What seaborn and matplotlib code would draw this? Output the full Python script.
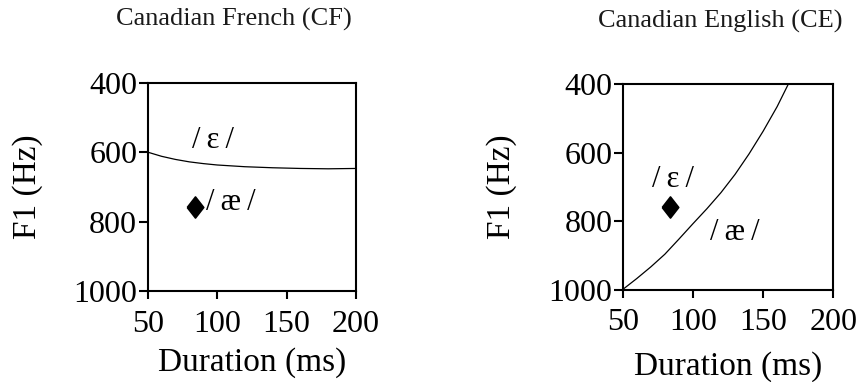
import matplotlib
matplotlib.use('Agg')
import matplotlib.pyplot as plt
import seaborn as sns

sns.set_style('ticks')
plt.rcParams['font.family'] = ['Liberation Serif', 'DejaVu Serif']
plt.rcParams['text.color'] = 'black'
plt.rcParams['axes.labelcolor'] = 'black'
plt.rcParams['xtick.color'] = 'black'
plt.rcParams['ytick.color'] = 'black'

# Canadian French boundary between /ɛ/ and /æ/
cf_dur = [50, 60, 70, 80, 90, 100, 120, 140, 160, 180, 200]
cf_f1 = [600, 612, 621, 628, 633, 637, 642, 645, 647, 648, 647]

# Canadian English boundary
ce_dur = [50, 60, 70, 80, 90, 100, 110, 120, 130, 140, 150, 160, 168]
ce_f1 = [1000, 968, 934, 897, 853, 808, 764, 717, 664, 604, 538, 466, 400]

# stimulus token
tok_dur = [84]
tok_f1 = [758]

titles = ['Canadian French (CF)', 'Canadian English (CE)']
x_ticks = [50, 100, 150, 200]
y_ticks = [400, 600, 800, 1000]

fig = plt.figure(figsize=(8.62, 3.82), dpi=100)
ax1 = fig.add_axes([0.1713, 0.2382, 0.2417, 0.5453])
ax2 = fig.add_axes([0.7224, 0.2421, 0.2443, 0.5380])

diamond = [(-0.78, 0), (0, 1), (0.78, 0), (0, -1), (-0.78, 0)]


def style_axes(ax, xlab_y):
    ax.set_xlim(50, 200)
    ax.set_ylim(1000, 400)
    ax.set_xticks(x_ticks)
    ax.set_yticks(y_ticks)
    for s in ax.spines.values():
        s.set_linewidth(1.5)
        s.set_color('black')
    ax.tick_params(axis='x', length=5.5, width=1.5, pad=8, labelsize=23)
    ax.tick_params(axis='y', length=6.5, width=1.5, pad=1, labelsize=23)
    ax.set_xlabel('Duration (ms)', fontsize=24)
    ax.set_ylabel('F1 (Hz)', fontsize=24)
    ax.xaxis.set_label_coords(0.5, xlab_y)
    ax.yaxis.set_label_coords(-0.50, 0.5)


# left panel
sns.lineplot(x=cf_dur, y=cf_f1, ax=ax1, color='black', linewidth=0.9)
sns.scatterplot(x=tok_dur, y=tok_f1, ax=ax1, marker=diamond, s=230,
                color='black', edgecolor='black', zorder=5)
ax1.text(97, 566, '/\u2009ε\u2009/', fontsize=22, ha='center', va='center')
ax1.text(110, 746, '/\u2009æ\u2009/', fontsize=22, ha='center', va='center')
style_axes(ax1, -0.27)

# right panel
sns.lineplot(x=ce_dur, y=ce_f1, ax=ax2, color='black', linewidth=0.9)
sns.scatterplot(x=tok_dur, y=tok_f1, ax=ax2, marker=diamond, s=230,
                color='black', edgecolor='black', zorder=5)
ax2.text(86, 678, '/\u2009ε\u2009/', fontsize=22, ha='center', va='center')
ax2.text(130, 834, '/\u2009æ\u2009/', fontsize=22, ha='center', va='center')
style_axes(ax2, -0.30)

fig.text(0.271, 0.948, titles[0], fontsize=19, ha='center', va='center', color='#1a1a1a')
fig.text(0.835, 0.945, titles[1], fontsize=19, ha='center', va='center', color='#1a1a1a')

fig.savefig('out.png', dpi=100)
